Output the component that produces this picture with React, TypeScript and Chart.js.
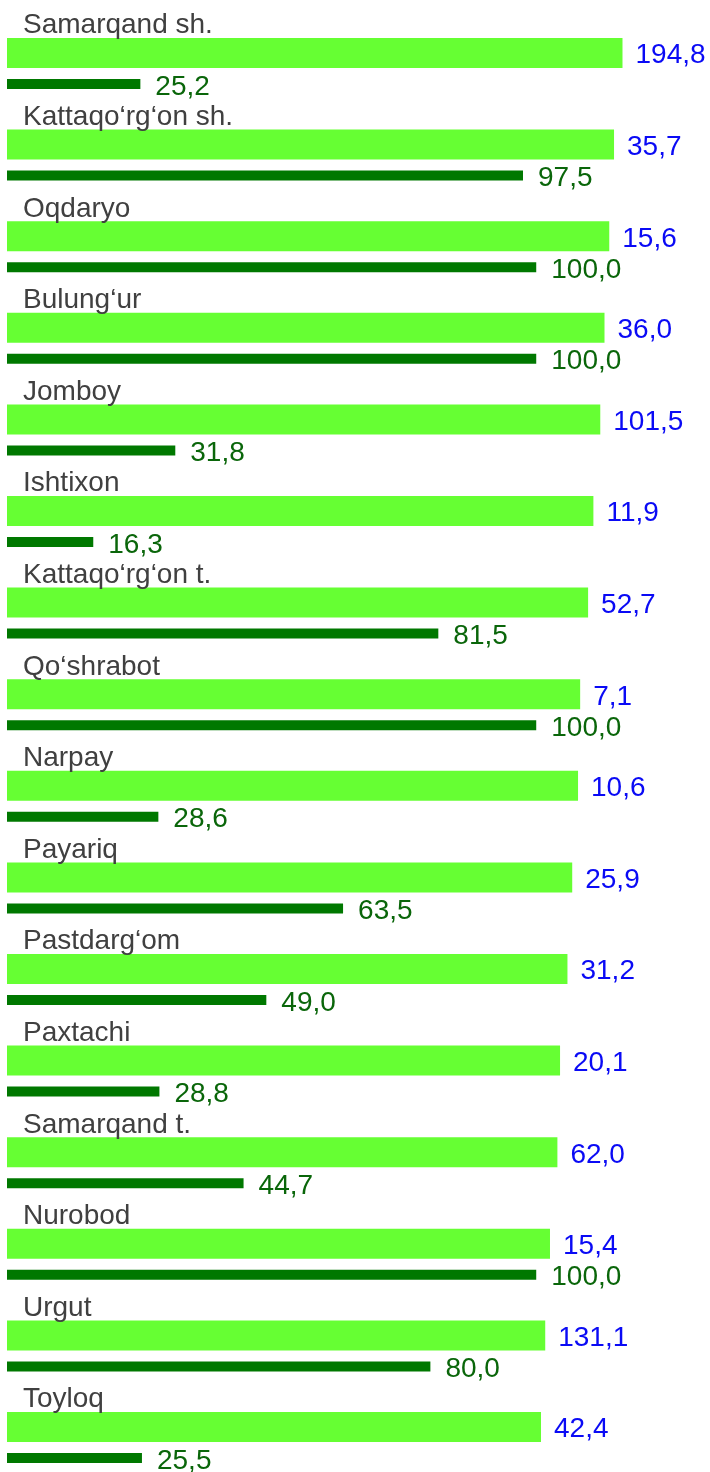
import React, { useEffect, useRef } from "react";
import { Chart, registerables } from "chart.js";

Chart.register(...registerables);

const categories = [
  "Samarqand sh.",
  "Kattaqo\u2018rg\u2018on sh.",
  "Oqdaryo",
  "Bulung\u2018ur",
  "Jomboy",
  "Ishtixon",
  "Kattaqo\u2018rg\u2018on t.",
  "Qo\u2018shrabot",
  "Narpay",
  "Payariq",
  "Pastdarg\u2018om",
  "Paxtachi",
  "Samarqand t.",
  "Nurobod",
  "Urgut",
  "Toyloq",
];

// values printed next to the bright green bars
const lightValues = [194.8, 35.7, 15.6, 36.0, 101.5, 11.9, 52.7, 7.1, 10.6, 25.9, 31.2, 20.1, 62.0, 15.4, 131.1, 42.4];

// lengths of the bright green (decorative) bars, in the same axis units
const lightBarLengths = [116.3, 114.7, 113.8, 112.9, 112.1, 110.8, 109.8, 108.3, 107.9, 106.8, 105.9, 104.5, 104.0, 102.6, 101.7, 100.9];

// dark green bar values
const darkValues = [25.2, 97.5, 100.0, 100.0, 31.8, 16.3, 81.5, 100.0, 28.6, 63.5, 49.0, 28.8, 44.7, 100.0, 80.0, 25.5];

const FONT = "'Liberation Sans', Arial, sans-serif";
const fmt = (v: number) => v.toFixed(1).replace(".", ",");

const labelPlugin = {
  id: "customLabels",
  afterDatasetsDraw(chart: any) {
    const ctx = chart.ctx;
    const light = chart.getDatasetMeta(0).data;
    const dark = chart.getDatasetMeta(1).data;
    ctx.save();
    ctx.font = `28px ${FONT}`;
    ctx.textAlign = "left";
    ctx.textBaseline = "alphabetic";
    light.forEach((bar: any, i: number) => {
      // category name above the bright bar
      ctx.fillStyle = "#404040";
      ctx.fillText(categories[i], chart.chartArea.left + 16, bar.y - 19.5);
      // bright bar value
      ctx.fillStyle = "#0A0AF5";
      ctx.fillText(fmt(lightValues[i]), bar.x + 13, bar.y + 10.5);
    });
    dark.forEach((bar: any, i: number) => {
      ctx.fillStyle = "#0A660A";
      ctx.fillText(fmt(darkValues[i]), bar.x + 15, bar.y + 10.5);
    });
    ctx.restore();
  },
};

export default function App() {
  const ref = useRef<HTMLCanvasElement | null>(null);

  useEffect(() => {
    if (!ref.current) return;
    const chart = new Chart(ref.current, {
      type: "bar",
      data: {
        labels: categories,
        datasets: [
          {
            label: "light",
            data: lightBarLengths,
            backgroundColor: "#66FF33",
            barPercentage: 0.968,
            categoryPercentage: 0.677,
            clip: false,
          } as any,
          {
            label: "dark",
            data: darkValues,
            backgroundColor: "#007800",
            barPercentage: 0.323,
            categoryPercentage: 0.677,
            clip: false,
          } as any,
        ],
      },
      options: {
        indexAxis: "y",
        responsive: false,
        animation: false,
        devicePixelRatio: 1,
        layout: { padding: { left: 7, right: 15, top: 68.5, bottom: 29.5 } },
        plugins: {
          legend: { display: false },
          tooltip: { enabled: false },
        },
        scales: {
          x: { type: "linear", min: 0, max: 130, display: false },
          y: { type: "category", offset: false, display: false, grid: { offset: false } },
        },
      },
      plugins: [labelPlugin],
    });
    return () => chart.destroy();
  }, []);

  return (
    <div style={{ position: "absolute", left: 0, top: 0, width: 710, height: 1472, background: "#fff" }}>
      <canvas ref={ref} width={710} height={1472} style={{ display: "block" }} />
    </div>
  );
}
